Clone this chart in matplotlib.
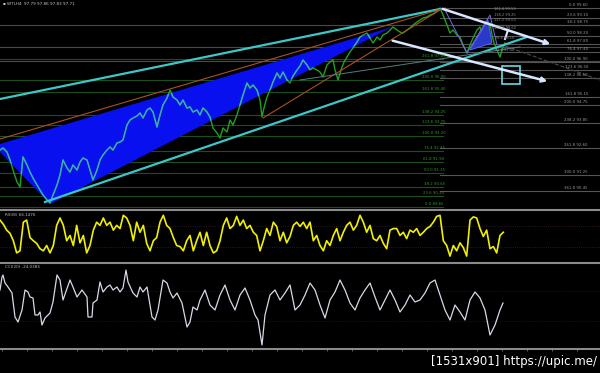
import matplotlib.pyplot as plt
from matplotlib.patches import Polygon, Rectangle

# WTI H4 closes (bar index, price)
price_x = [0, 3, 7, 10, 13, 17, 20, 23, 27, 30, 33, 37, 40, 43, 47, 50, 53, 57, 60, 63,
           67, 70, 73, 77, 80, 83, 87, 90, 93, 97, 100, 103, 107, 110, 113, 117, 120, 123, 127, 130,
           133, 137, 140, 143, 147, 150, 153, 157, 160, 163, 167, 170, 173, 177, 180, 183, 187, 190, 193, 197,
           200, 203, 207, 210, 213, 217, 220, 223, 227, 230, 233, 237, 240, 243, 247, 250, 253, 257, 260, 262,
           264, 267, 270, 273, 277, 280, 283, 287, 290, 293, 297, 300, 303, 307, 310, 313, 317, 320, 323, 327,
           330, 333, 335, 338, 341, 344, 347, 350, 353, 357, 360, 363, 367, 370, 373, 377, 380, 383, 387, 390,
           393, 397, 400, 403, 407, 410, 413, 417, 420, 423, 427, 430, 433, 437, 440, 443, 447, 450, 453, 457,
           460, 463, 467, 470, 473, 477, 480, 483, 487, 490, 492, 494, 497, 500, 502, 505]
price = [92.50, 92.60, 92.40, 92.00, 91.50, 90.90, 90.65, 92.15, 91.75, 91.40, 91.10, 90.75, 90.50, 90.25, 90.00, 89.85, 90.25, 90.75, 91.25, 92.00,
         91.60, 91.40, 91.75, 91.50, 91.90, 92.10, 92.00, 91.50, 91.00, 91.50, 92.00, 92.25, 92.50, 92.65, 92.50, 92.85, 92.90, 93.00, 93.75, 94.00,
         94.10, 94.20, 94.35, 94.10, 94.50, 94.60, 94.40, 93.65, 94.25, 94.75, 95.10, 95.50, 95.15, 95.00, 94.75, 95.00, 94.60, 94.65, 94.40, 94.50,
         94.25, 94.60, 94.40, 94.15, 93.60, 93.35, 93.10, 93.60, 93.40, 94.00, 93.75, 94.25, 94.75, 95.25, 95.85, 95.60, 95.75, 95.50, 95.00, 94.15,
         94.60, 95.15, 95.50, 95.90, 96.35, 96.10, 96.40, 96.00, 95.85, 96.20, 96.50, 96.70, 97.00, 96.75, 96.50, 96.60, 96.50, 96.40, 96.15, 96.75,
         96.90, 97.00, 96.50, 96.00, 96.50, 96.90, 97.15, 97.40, 97.60, 97.90, 98.15, 98.25, 98.35, 98.10, 97.85, 98.15, 98.00, 98.25, 98.35, 98.50,
         98.65, 98.50, 98.40, 98.35, 98.50, 98.60, 98.75, 98.90, 99.00, 99.10, 99.15, 99.25, 99.30, 99.45, 99.60, 99.25, 98.75, 98.35, 98.50, 98.25,
         98.15, 97.75, 97.35, 97.75, 98.10, 98.50, 98.65, 98.25, 98.35, 98.85, 98.25, 97.85, 97.50, 97.15, 97.50, 97.85]

# RSI, one reading every 10/3 bars
rsi = [81, 73, 62, 56, 42, 19, 23, 77, 81, 48, 42, 37, 27, 23, 33, 19, 33, 71, 85, 71,
       42, 52, 33, 71, 38, 52, 19, 33, 62, 77, 71, 85, 71, 77, 62, 71, 65, 90, 85, 71,
       42, 77, 58, 71, 37, 23, 42, 48, 77, 90, 71, 65, 48, 33, 31, 23, 42, 52, 23, 42,
       58, 33, 58, 33, 19, 23, 42, 71, 85, 65, 71, 88, 71, 81, 65, 71, 58, 52, 23, 42,
       65, 52, 77, 69, 42, 58, 38, 50, 71, 77, 69, 77, 65, 77, 42, 52, 33, 23, 42, 33,
       52, 65, 42, 58, 71, 77, 62, 71, 90, 77, 58, 71, 46, 42, 52, 37, 27, 62, 65, 65,
       52, 58, 46, 62, 58, 65, 52, 58, 65, 69, 77, 88, 90, 42, 33, 13, 33, 23, 38, 29,
       13, 81, 87, 85, 65, 50, 62, 27, 31, 19, 52, 58]
rsi_x = [i * 10 / 3 for i in range(len(rsi))]

# CCI(20)
cci_x = [0, 2, 3, 5, 8, 12, 15, 18, 22, 25, 28, 30, 33, 35, 38, 40, 42, 45, 50, 53,
         57, 60, 63, 70, 73, 77, 82, 87, 88, 92, 93, 97, 100, 103, 107, 110, 113, 117, 120, 123,
         126, 128, 133, 137, 140, 143, 147, 152, 155, 158, 163, 167, 170, 173, 177, 182, 187, 190, 193, 197,
         200, 205, 210, 215, 220, 225, 230, 235, 240, 245, 250, 255, 258, 262, 265, 270, 275, 280, 285, 290,
         295, 300, 305, 310, 315, 320, 325, 330, 335, 340, 345, 350, 355, 360, 365, 370, 375, 380, 385, 390,
         395, 400, 405, 410, 415, 420, 425, 430, 435, 440, 445, 450, 455, 460, 465, 470, 475, 480, 485, 490,
         495, 500, 503]
cci = [80, 145, 155, 115, 95, 65, -55, -80, -20, 80, 70, 45, 40, -45, -45, -30, -95, -60, -35, 20,
       155, 130, 30, 130, 95, 45, 80, 45, -55, -55, 15, 30, 120, 70, 95, 105, 80, 95, 70, 90,
       180, 120, 65, 45, 95, 70, 95, -55, -70, -20, 130, 115, 70, 40, 65, 15, -105, -80, -5, -20,
       30, 80, 5, -20, 55, 105, 30, -20, 55, 90, 30, -45, -70, -195, -45, 55, 80, 30, 65, 105,
       -20, 5, 55, 115, 80, 5, -60, 30, 70, 130, 80, 15, -20, 40, 80, 115, 45, -20, 30, 80,
       30, -30, 5, 55, 20, 30, 65, 115, 130, 55, -20, -70, 5, -30, -70, 30, 70, 40, -20, -145,
       -95, -20, 15]

# fibonacci levels
fib_mid_pct = ["261.8", "200.0", "161.8", "138.2", "123.6", "100.0", "76.4", "61.8", "50.0", "38.2", "23.6", "0.0"]
fib_mid_price = [97.05, 96.00, 95.40, 94.25, 93.75, 93.20, 92.45, 91.90, 91.35, 90.65, 90.20, 89.65]
fib_right_pct = ["0.0", "23.6", "38.2", "50.0", "61.8", "76.4", "100.0", "123.6", "138.2", "161.8",
                 "200.0", "238.2", "261.8", "300.0", "361.8"]
fib_right_price = [99.60, 99.10, 98.75, 98.20, 97.80, 97.40, 96.90, 96.50, 96.10, 95.15,
                   94.75, 93.85, 92.60, 91.25, 90.45]
fib_top_pct = ["161.8", "138.2", "127.2", "100.0", "78.6", "61.8"]
fib_top_price = [99.55, 99.25, 99.00, 98.60, 98.10, 97.50]
grid_full = [98.75, 97.65, 96.95]

BG = 'black'
fig = plt.figure(figsize=(6, 3.73), dpi=100, facecolor=BG)
H = 373.0
ax = fig.add_axes([0, (H - 208) / H, 1, 208 / H])
ax_rsi = fig.add_axes([0, (H - 263) / H, 1, 53 / H])
ax_cci = fig.add_axes([0, (H - 349) / H, 1, 86 / H])

for a in (ax, ax_rsi, ax_cci):
    a.set_facecolor(BG)
    a.set_xlim(0, 600)
    a.set_xticks([])
    a.set_yticks([])
    for s in a.spines.values():
        s.set_visible(False)

ax.set_ylim(89.6, 100.0)

# horizontal fib lines
for p in grid_full:
    ax.axhline(p, color='#4a4a4a', lw=0.8, zorder=1)
for pct, p in zip(fib_mid_pct, fib_mid_price):
    ax.plot([0, 443], [p, p], color='#1c4f1c', lw=0.8, zorder=1)
    ax.text(434, p + 0.04, pct + " " + format(p, '.2f'), color='#2e9a2e', fontsize=2.8,
            ha='center', va='bottom', zorder=6)
for pct, p in zip(fib_right_pct, fib_right_price):
    ax.plot([440, 600], [p, p], color='#555555', lw=0.8, zorder=1)
    ax.text(588, p + 0.04, pct + " " + format(p, '.2f'), color='#9a9a9a', fontsize=2.8,
            ha='right', va='bottom', zorder=6)
for pct, p in zip(fib_top_pct, fib_top_price):
    ax.text(505, p, pct + " " + format(p, '.2f'), color='#8a8a8a', fontsize=2.6,
            ha='center', va='center', zorder=6)

# blue triangle
tri = Polygon([(0, 92.80), (392, 98.65), (50, 89.80), (0, 92.40)], closed=True,
              facecolor='#0810f0', edgecolor='none', zorder=2)
ax.add_patch(tri)

# price
ax.plot(price_x, price, color='#22a022', lw=1.0, zorder=3)
inner, = ax.plot(price_x, price, color='#3aaac4', lw=1.0, zorder=3.5)
inner.set_clip_path(tri)

# channels and trendlines
ax.plot([0, 440], [95.05, 99.55], color='#3cc8c8', lw=1.6, zorder=4)
ax.plot([45, 527], [89.90, 98.15], color='#3cc8c8', lw=1.6, zorder=4)
ax.plot([0, 445], [93.05, 99.60], color='#a8521e', lw=0.8, zorder=4)
ax.plot([263, 440], [94.10, 99.50], color='#a8521e', lw=0.8, zorder=4)
ax.plot([300, 520], [96.00, 97.65], color='#4f7f7f', lw=0.7, zorder=4)
ax.plot([505, 600], [97.70, 96.00], color='#4a4a4a', lw=0.8, ls='--', zorder=4)

# harmonic pattern
ax.add_patch(Polygon([(470, 97.5), (488, 99.0), (492, 97.85)], closed=True,
                     facecolor='#2a3ac8', edgecolor='#5a6aff', lw=0.6, zorder=4))
ax.plot([445, 467, 490, 497], [99.50, 97.35, 99.25, 97.75], color='#7a6ad8', lw=0.7, zorder=4)

ax.add_patch(Rectangle((502, 95.80), 18, 0.90, fill=False, edgecolor='#6ad8e0', lw=1.2, zorder=5))

arrow = dict(arrowstyle='->', color='#d8e6ff', lw=1.8, mutation_scale=7)
ax.annotate('', xy=(553, 97.75), xytext=(440, 99.60), arrowprops=arrow, zorder=5)
ax.annotate('', xy=(550, 95.90), xytext=(390, 98.00), arrowprops=arrow, zorder=5)
ax.plot([508, 505], [98.50, 98.05], color='#d8e6ff', lw=1.5, zorder=5)

ax.text(3, 99.82, "\u25aa WTI,H4  97.79 97.86 97.83 97.71", color='#c8c8c8', fontsize=3,
        ha='left', va='center')

# RSI
ax_rsi.set_ylim(0, 100)
ax_rsi.spines['top'].set_visible(True)
ax_rsi.spines['top'].set_color('#8a8a8a')
ax_rsi.spines['top'].set_linewidth(1.5)
for lvl in (70, 30):
    ax_rsi.axhline(lvl, color='#3a2222', lw=0.6, ls=':')
ax_rsi.plot(rsi_x, rsi, color='#f0f000', lw=1.2)
ax_rsi.text(5, 91, "RSI(8) 66.1476", color='#bbbbbb', fontsize=3, ha='left', va='center')

# CCI
ax_cci.set_ylim(-215, 215)
for side in ('top', 'bottom'):
    ax_cci.spines[side].set_visible(True)
    ax_cci.spines[side].set_color('#8a8a8a')
    ax_cci.spines[side].set_linewidth(1.5)
for lvl in (75, -75):
    ax_cci.axhline(lvl, color='#1c1c3a', lw=0.6, ls=':')
ax_cci.plot(cci_x, cci, color='#d8d8e8', lw=0.9)
ax_cci.text(5, 195, "CCI(20) -24.0385", color='#bbbbbb', fontsize=3, ha='left', va='center')
ax_cci.set_xticks(range(2, 600, 25))
ax_cci.tick_params(axis='x', direction='out', length=1.5, width=0.6, color='#777777', labelbottom=False)

fig.text(597 / 600, 12 / H, "[1531x901] https://upic.me/", color='white', fontsize=8.5,
         ha='right', va='center')

fig.savefig('out.png', dpi=100, facecolor=BG)
